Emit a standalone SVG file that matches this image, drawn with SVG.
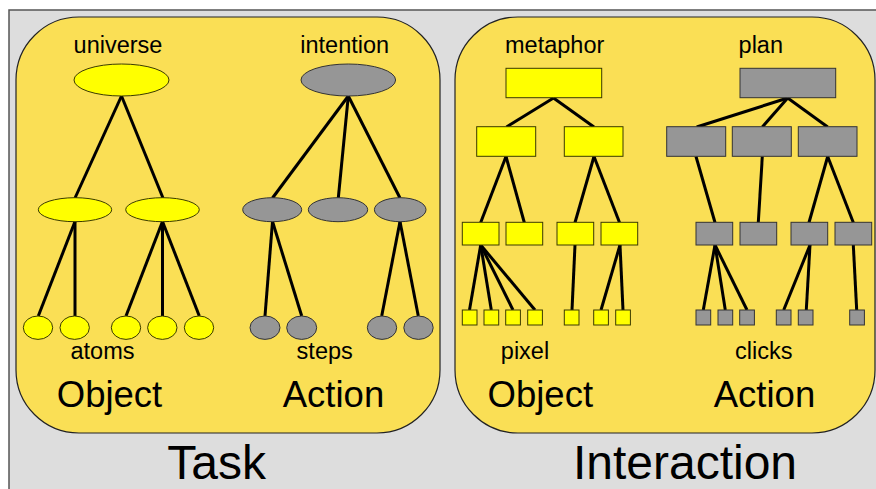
<svg xmlns="http://www.w3.org/2000/svg" width="876" height="489" viewBox="0 0 876 489">
<style>
text{font-family:"Liberation Sans",Arial,sans-serif;fill:#000;text-anchor:middle}
.lbl{font-size:23.5px}
.big{font-size:36.5px}
.huge{font-size:48px}
.panel{fill:#fadf55;stroke:#222;stroke-width:1.2}
.y{fill:#ffff00;stroke:#3a3a00;stroke-width:1}
.g{fill:#969696;stroke:#333;stroke-width:1}
.c line{stroke:#000;stroke-width:3;stroke-linecap:butt}
</style>
<rect x="9" y="10" width="880" height="490" fill="#dddddd" stroke="#555" stroke-width="1.5"/>
<rect id="panel-task" class="panel" x="16" y="17" width="424" height="416" rx="63" ry="63"/>
<rect id="panel-interaction" class="panel" x="455" y="17" width="420" height="416" rx="63" ry="63"/>

<g id="connectors" class="c">
<!-- task object -->
<line x1="121.5" y1="96" x2="75" y2="198"/>
<line x1="121.5" y1="96" x2="163" y2="198"/>
<line x1="75" y1="221.5" x2="38.3" y2="316"/>
<line x1="75" y1="221.5" x2="75" y2="316"/>
<line x1="162.5" y1="221.5" x2="126" y2="316"/>
<line x1="162.5" y1="221.5" x2="162.5" y2="316"/>
<line x1="162.5" y1="221.5" x2="199.3" y2="316"/>
<!-- task action -->
<line x1="348.3" y1="96" x2="272.5" y2="198"/>
<line x1="348.3" y1="96" x2="338.3" y2="198"/>
<line x1="348.3" y1="96" x2="400" y2="198"/>
<line x1="272.5" y1="221.5" x2="265" y2="316"/>
<line x1="272.5" y1="221.5" x2="301.7" y2="316"/>
<line x1="400" y1="221.5" x2="381.7" y2="316"/>
<line x1="400" y1="221.5" x2="418.3" y2="316"/>
<!-- interaction object -->
<line x1="553.5" y1="98" x2="506.5" y2="127"/>
<line x1="553.5" y1="98" x2="594" y2="127"/>
<line x1="506" y1="156.5" x2="480.7" y2="222.5"/>
<line x1="506" y1="156.5" x2="524.3" y2="222.5"/>
<line x1="594" y1="156.5" x2="575" y2="222.5"/>
<line x1="594" y1="156.5" x2="619.5" y2="222.5"/>
<line x1="480.7" y1="245" x2="469.5" y2="310"/>
<line x1="480.7" y1="245" x2="491.3" y2="310"/>
<line x1="480.7" y1="245" x2="513" y2="310"/>
<line x1="480.7" y1="245" x2="535" y2="310"/>
<line x1="575" y1="245" x2="572" y2="310"/>
<line x1="620" y1="245" x2="601" y2="310"/>
<line x1="620" y1="245" x2="623" y2="310"/>
<!-- interaction action -->
<line x1="787.7" y1="98" x2="696.7" y2="127"/>
<line x1="787.7" y1="98" x2="762.3" y2="127"/>
<line x1="787.7" y1="98" x2="827.7" y2="127"/>
<line x1="696" y1="156.5" x2="715" y2="222.5"/>
<line x1="762.3" y1="156.5" x2="758.3" y2="222.5"/>
<line x1="827.7" y1="156.5" x2="809" y2="222.5"/>
<line x1="827.7" y1="156.5" x2="853.3" y2="222.5"/>
<line x1="715" y1="245" x2="703.3" y2="310"/>
<line x1="715" y1="245" x2="725.3" y2="310"/>
<line x1="715" y1="245" x2="747" y2="310"/>
<line x1="810" y1="245" x2="783.7" y2="310"/>
<line x1="810" y1="245" x2="806.3" y2="310"/>
<line x1="853.3" y1="245" x2="856.7" y2="310"/>
</g>

<g id="task-object-nodes">
<ellipse id="universe" class="y" cx="121.5" cy="80" rx="47.5" ry="16"/>
<ellipse id="obj-a" class="y" cx="75" cy="209.7" rx="36.7" ry="12"/>
<ellipse id="obj-b" class="y" cx="162.5" cy="209.7" rx="36.8" ry="12"/>
<ellipse id="atom-1" class="y" cx="38" cy="327.7" rx="14.7" ry="11.7"/>
<ellipse id="atom-2" class="y" cx="74.7" cy="327.7" rx="14.7" ry="11.7"/>
<ellipse id="atom-3" class="y" cx="126" cy="327.7" rx="14.7" ry="11.7"/>
<ellipse id="atom-4" class="y" cx="162.3" cy="327.7" rx="14.7" ry="11.7"/>
<ellipse id="atom-5" class="y" cx="199" cy="327.7" rx="14.7" ry="11.7"/>
</g>
<g id="task-action-nodes">
<ellipse id="intention" class="g" cx="348.3" cy="80" rx="47.3" ry="16"/>
<ellipse id="act-a" class="g" cx="272.2" cy="209.7" rx="29.5" ry="12"/>
<ellipse id="act-b" class="g" cx="338" cy="209.7" rx="29.7" ry="12"/>
<ellipse id="act-c" class="g" cx="400.2" cy="209.7" rx="25.8" ry="12"/>
<ellipse id="step-1" class="g" cx="265" cy="327.7" rx="15" ry="11.7"/>
<ellipse id="step-2" class="g" cx="301.7" cy="327.7" rx="15" ry="11.7"/>
<ellipse id="step-3" class="g" cx="382" cy="327.7" rx="14.7" ry="11.7"/>
<ellipse id="step-4" class="g" cx="418.5" cy="327.7" rx="14.7" ry="11.7"/>
</g>

<g id="interaction-object-nodes">
<rect id="metaphor" class="y" x="506" y="68.3" width="95.7" height="29.4"/>
<rect id="io-2a" class="y" x="476.7" y="126.7" width="59" height="29.6"/>
<rect id="io-2b" class="y" x="564.3" y="126.7" width="58.7" height="29.6"/>
<rect id="io-3a" class="y" x="462.3" y="222.3" width="36.7" height="22.7"/>
<rect id="io-3b" class="y" x="506" y="222.3" width="36.7" height="22.7"/>
<rect id="io-3c" class="y" x="557" y="222.3" width="36.7" height="22.7"/>
<rect id="io-3d" class="y" x="601" y="222.3" width="36.7" height="22.7"/>
<rect id="pixel-1" class="y" x="462.3" y="310" width="14.7" height="15"/>
<rect id="pixel-2" class="y" x="484" y="310" width="14.7" height="15"/>
<rect id="pixel-3" class="y" x="505.7" y="310" width="14.7" height="15"/>
<rect id="pixel-4" class="y" x="527.7" y="310" width="14.7" height="15"/>
<rect id="pixel-5" class="y" x="564.3" y="310" width="14.7" height="15"/>
<rect id="pixel-6" class="y" x="593.7" y="310" width="14.7" height="15"/>
<rect id="pixel-7" class="y" x="615.7" y="310" width="14.7" height="15"/>
</g>
<g id="interaction-action-nodes">
<rect id="plan" class="g" x="740" y="68.3" width="95.7" height="29.4"/>
<rect id="ia-2a" class="g" x="666.7" y="126.7" width="59" height="29.6"/>
<rect id="ia-2b" class="g" x="732.3" y="126.7" width="59" height="29.6"/>
<rect id="ia-2c" class="g" x="798.3" y="126.7" width="58.7" height="29.6"/>
<rect id="ia-3a" class="g" x="696" y="222.3" width="36.7" height="22.7"/>
<rect id="ia-3b" class="g" x="740" y="222.3" width="36.7" height="22.7"/>
<rect id="ia-3c" class="g" x="791" y="222.3" width="36.7" height="22.7"/>
<rect id="ia-3d" class="g" x="835" y="222.3" width="36.7" height="22.7"/>
<rect id="click-1" class="g" x="696" y="310" width="14.7" height="15"/>
<rect id="click-2" class="g" x="718" y="310" width="14.7" height="15"/>
<rect id="click-3" class="g" x="739.7" y="310" width="14.7" height="15"/>
<rect id="click-4" class="g" x="776.3" y="310" width="14.7" height="15"/>
<rect id="click-5" class="g" x="798.3" y="310" width="14.7" height="15"/>
<rect id="click-6" class="g" x="849.7" y="310" width="14.7" height="15"/>
</g>

<g id="labels">
<text class="lbl" x="118" y="53">universe</text>
<text class="lbl" x="344.7" y="53">intention</text>
<text class="lbl" x="102.5" y="359">atoms</text>
<text class="lbl" x="324.7" y="359">steps</text>
<text class="big" x="109.5" y="407">Object</text>
<text class="big" x="333.5" y="407">Action</text>
<text class="huge" x="216.7" y="479">Task</text>
<text class="lbl" x="554.7" y="53">metaphor</text>
<text class="lbl" x="760.8" y="53">plan</text>
<text class="lbl" x="525" y="359">pixel</text>
<text class="lbl" x="763.7" y="359">clicks</text>
<text class="big" x="540.3" y="407">Object</text>
<text class="big" x="764.5" y="407">Action</text>
<text class="huge" x="685" y="479">Interaction</text>
</g>
</svg>
